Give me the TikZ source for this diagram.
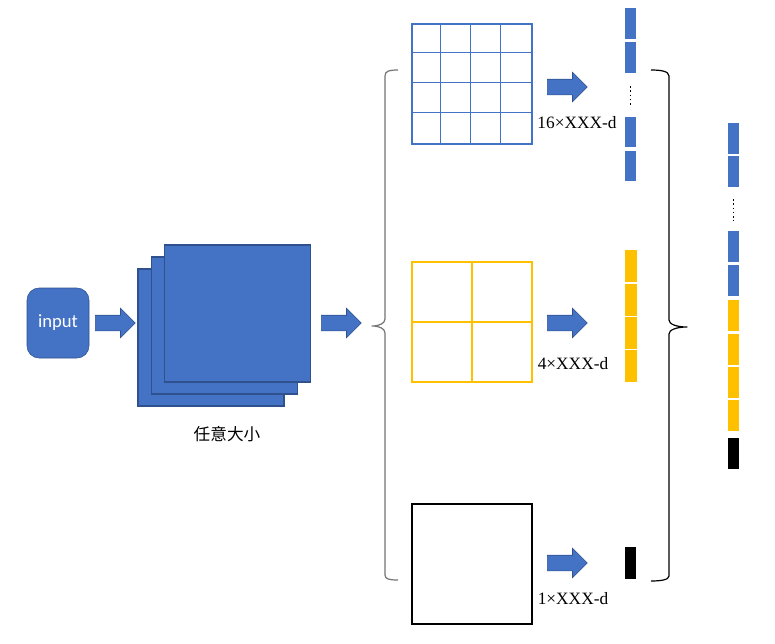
\documentclass[tikz,border=0pt]{standalone}
\usepackage{fontspec}
\setmainfont{Liberation Serif}
\newfontfamily\inputfont{Carlito}
\newfontfamily\cjkfont{Noto Sans CJK SC}
\usetikzlibrary{shapes.arrows}

\definecolor{featblue}{HTML}{4472C4}
\definecolor{featedge}{HTML}{2F528F}
\definecolor{poolgold}{HTML}{FFC000}

\begin{document}
\begin{tikzpicture}[
    x=0.75pt, y=-0.75pt,
    inputbox/.style={draw=featedge, fill=featblue, rounded corners=9pt,
                     text=white, font=\inputfont\fontsize{14}{16}\selectfont,
                     minimum width=46.5pt, minimum height=52.5pt, inner sep=0pt},
    fmap/.style={draw=featedge, fill=featblue, line width=0.8pt,
                 minimum width=109.5pt, minimum height=102.75pt, inner sep=0pt},
    blockarrow/.style={single arrow, draw=featedge, fill=featblue, inner sep=0pt,
                       text height=5.625pt, text depth=5.625pt, anchor=tail,
                       minimum height=30pt, single arrow head extend=5.25pt},
    poolbox/.style={draw=#1, line width=1.6pt, minimum size=90pt, inner sep=0pt},
    cellline/.style={draw=#1, line width=0.8pt},
    dimlabel/.style={font=\fontsize{13}{15}\selectfont, inner sep=0pt},
    brace/.style={line width=0.9pt, line join=round},
]
\useasboundingbox (0,0) rectangle (775,643);

% input and feature maps
\node[inputbox]            (input)    at (58,323)     {input};
\node[blockarrow]          (toconv)   at (95,323)     {};
\node[fmap]                (mapback)  at (211,337.5)  {};
\node[fmap]                (mapmid)   at (224.5,325.5){};
\node[fmap]                (mapfront) at (237.5,313.5){};
\node[font=\cjkfont\fontsize{12.5}{15}\selectfont] (maplabel) at (227,434) {任意大小};
\node[blockarrow]          (topool)   at (321,323)    {};

% pooling levels
\node[poolbox=featblue]    (grid16)   at (472,84)     {};
\node[poolbox=poolgold]    (grid4)    at (472,322)    {};
\node[poolbox=black]       (grid1)    at (472,564)    {};
\foreach \i in {1,2,3} {
    \draw[cellline=featblue] (grid16.north west) ++(\i*30,0) -- ++(0,120);
    \draw[cellline=featblue] (grid16.north west) ++(0,\i*30) -- ++(120,0);
}
\draw[cellline=poolgold] (grid4.north) -- (grid4.south);
\draw[cellline=poolgold] (grid4.west)  -- (grid4.east);

\node[blockarrow]          (out16)    at (547,87)     {};
\node[blockarrow]          (out4)     at (547,323)    {};
\node[blockarrow]          (out1)     at (547,563)    {};
\node[dimlabel]            (dim16)    at (577,123)    {16×XXX-d};
\node[dimlabel]            (dim4)     at (573,364)    {4×XXX-d};
\node[dimlabel]            (dim1)     at (573,599)    {1×XXX-d};

% per-level vectors
\foreach \ya/\yb in {8/39, 42/73, 117/147, 151/181}
    \fill[featblue] (625,\ya) rectangle (636,\yb);
\draw[dotted, line width=1.2pt] (630.5,86) -- (630.5,107);
\foreach \ya/\yb in {250/282, 284/316, 317/349, 350/382}
    \fill[poolgold] (625,\ya) rectangle (637,\yb);
\fill[black] (625,547) rectangle (636,579);

% braces
\draw[brace, draw=black!55] (398,70) .. controls (389,70) and (385,71) .. (385,76)
    -- (385,319) .. controls (385,323) and (380,326) .. (372,326)
    .. controls (380,326) and (385,329) .. (385,333)
    -- (385,575) .. controls (385,579) and (389,580) .. (398,580);
\draw[brace] (651,70) .. controls (660,70) and (669,71) .. (669,76)
    -- (669,320) .. controls (669,324) and (676,327) .. (687,327)
    .. controls (676,327) and (669,330) .. (669,334)
    -- (669,576) .. controls (669,580) and (660,581) .. (651,581);

% concatenated vector
\foreach \ya/\yb in {123/154, 156/187, 231/262, 265/296}
    \fill[featblue] (728,\ya) rectangle (739,\yb);
\draw[dotted, line width=1.2pt] (733.5,199) -- (733.5,221);
\foreach \ya/\yb in {300/331, 334/365, 367/398, 400/431}
    \fill[poolgold] (728,\ya) rectangle (739,\yb);
\fill[black] (728,438) rectangle (739,469);

\end{tikzpicture}
\end{document}
